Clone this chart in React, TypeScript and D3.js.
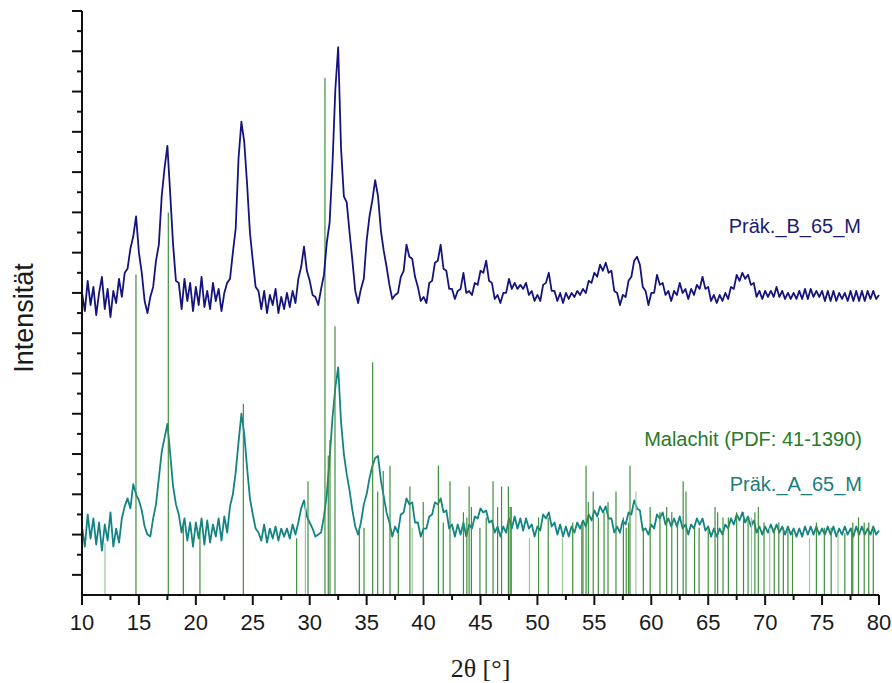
import React from "react";
import * as d3 from "d3";

// 2θ grid of the measured patterns
const TWO_THETA_START = 10;
const TWO_THETA_STEP = 0.25;

// Präk._B_65_M intensities (arb. units), one value per 0.25° from 10° to 80°
const B_INT = [
  150, 141, 156, 144, 153, 139, 150, 158, 142, 152, 138, 151, 145, 157, 148, 160,
  162, 172, 178, 188, 170, 160, 146, 140, 148, 153, 166, 174, 198, 212, 223, 199,
  174, 156, 155, 142, 157, 146, 155, 141, 153, 144, 158, 143, 151, 142, 155, 146,
  152, 141, 150, 155, 157, 170, 182, 217, 235, 225, 204, 180, 166, 153, 151, 142,
  151, 140, 149, 144, 152, 140, 148, 142, 150, 143, 151, 145, 157, 163, 173, 161,
  156, 149, 148, 144, 152, 159, 175, 185, 214, 251, 272, 222, 198, 195, 180, 166,
  151, 145, 152, 157, 176, 188, 196, 206, 198, 181, 171, 163, 154, 147, 149, 150,
  158, 161, 174, 168, 167, 158, 153, 146, 148, 145, 155, 156, 165, 166, 174, 162,
  161, 152, 152, 147, 151, 152, 160, 150, 151, 149, 155, 154, 161, 160, 166, 156,
  155, 147, 149, 145, 150, 150, 157, 152, 155, 152, 154, 152, 155, 149, 151, 146,
  149, 146, 154, 155, 160, 151, 151, 146, 150, 145, 150, 147, 150, 148, 151, 149,
  152, 150, 156, 155, 160, 158, 164, 161, 165, 160, 161, 151, 150, 144, 149, 148,
  156, 158, 166, 168, 164, 153, 151, 144, 150, 150, 159, 154, 155, 149, 151, 146,
  151, 149, 155, 150, 152, 147, 152, 149, 154, 152, 158, 152, 153, 146, 149, 145,
  149, 146, 150, 147, 153, 152, 159, 156, 160, 157, 159, 154, 155, 148, 151, 147,
  151, 148, 151, 148, 153, 148, 151, 147, 150, 147, 150, 147, 151, 147, 152, 147,
  152, 148, 151, 148, 151, 146, 151, 146, 151, 146, 150, 147, 150, 146, 151, 146,
  151, 146, 151, 146, 151, 147, 151, 147, 149,
];

// Präk._A_65_M intensities (arb. units), one value per 0.25° from 10° to 80°
const A_INT = [
  34, 24, 40, 28, 38, 25, 36, 22, 35, 27, 41, 24, 33, 26, 38, 44,
  48, 43, 55, 50, 47, 42, 34, 30, 29, 38, 45, 58, 71, 78, 85, 70,
  54, 45, 40, 31, 38, 27, 36, 24, 36, 28, 38, 25, 37, 26, 35, 29,
  38, 27, 39, 31, 44, 50, 61, 76, 90, 80, 63, 48, 40, 33, 31, 27,
  35, 26, 33, 28, 34, 27, 33, 29, 33, 28, 35, 30, 36, 43, 47, 39,
  36, 33, 29, 30, 31, 39, 50, 68, 88, 103, 113, 86, 70, 60, 52, 42,
  34, 30, 36, 45, 50, 58, 64, 68, 69, 57, 49, 41, 36, 29, 34, 31,
  40, 41, 48, 45, 46, 36, 36, 29, 33, 33, 39, 40, 46, 45, 48, 41,
  42, 33, 35, 29, 35, 30, 36, 29, 35, 33, 39, 38, 43, 41, 42, 36,
  37, 31, 34, 29, 34, 31, 38, 33, 39, 33, 38, 32, 38, 33, 35, 29,
  34, 32, 40, 38, 41, 34, 36, 30, 35, 29, 34, 29, 34, 31, 36, 33,
  37, 34, 40, 37, 42, 39, 44, 41, 44, 38, 38, 31, 34, 31, 37, 35,
  41, 40, 47, 43, 42, 32, 33, 30, 35, 33, 40, 38, 41, 35, 38, 34,
  38, 34, 39, 33, 35, 30, 35, 33, 38, 35, 38, 32, 34, 29, 33, 29,
  33, 30, 35, 33, 38, 35, 40, 37, 41, 36, 39, 34, 37, 31, 34, 30,
  34, 31, 35, 31, 35, 31, 34, 30, 34, 30, 33, 29, 33, 29, 34, 30,
  34, 30, 34, 30, 33, 30, 34, 30, 34, 29, 33, 30, 34, 30, 33, 29,
  34, 30, 34, 30, 33, 30, 34, 30, 32,
];

// Malachit (PDF: 41-1390) reference lines: 2θ positions and relative intensities (%)
const STICK_POS = [
  12.02, 14.74, 17.58, 18.9, 20.36, 24.17, 28.85, 29.62, 29.85, 31.34, 31.63, 31.78,
  32.22, 34.36, 34.77, 35.53, 35.97, 36.46, 37.05, 37.78, 38.8, 39.0, 39.97, 41.3,
  41.73, 42.32, 43.5, 43.8, 44.0, 44.2, 44.95, 45.5, 46.1, 46.5, 46.85, 47.45,
  47.6, 47.7, 49.3, 50.1, 50.95, 52.2, 53.1, 53.9, 54.0, 54.27, 54.47, 54.9,
  55.35, 55.85, 56.2, 56.9, 57.55, 57.8, 58.0, 58.13, 58.65, 59.3, 59.9, 60.76,
  61.35, 61.8, 62.3, 62.8, 63.05, 63.8, 64.2, 65.0, 65.6, 65.83, 66.3, 66.77,
  67.5, 68.1, 68.5, 68.8, 69.1, 69.4, 69.9, 70.4, 70.8, 71.2, 71.6, 72.0,
  72.4, 73.9, 74.5, 75.2, 75.8, 76.4, 77.0, 77.6, 77.7, 78.2, 78.7, 79.1, 79.5,
];
const STICK_INT = [
  10, 62, 74, 14, 13, 37, 11, 18, 22, 100, 27, 30,
  52, 13, 13, 45, 20, 24, 25, 12, 21, 13, 18, 25,
  14, 22, 16, 15, 21, 17, 13, 15, 22, 17, 21, 21,
  17, 17, 11, 15, 15, 11, 14, 14, 14, 25, 18, 20,
  15, 16, 18, 20, 15, 13, 14, 25, 20, 13, 17, 16,
  17, 16, 14, 22, 20, 13, 13, 13, 17, 16, 15, 15,
  16, 16, 15, 15, 16, 17, 14, 13, 13, 14, 13, 13,
  12, 11, 14, 13, 13, 12, 12, 13, 14, 15, 14, 14, 13,
];
const FAINT_STICKS = [12.02, 29.62, 39.0, 49.3, 52.2, 58.65, 68.8, 70.4, 73.9, 76.4];

const X_MAJOR_TICKS = [10, 15, 20, 25, 30, 35, 40, 45, 50, 55, 60, 65, 70, 75, 80];
const X_MINOR_TICKS = [12.5, 17.5, 22.5, 27.5, 32.5, 37.5, 42.5, 47.5, 52.5, 57.5, 62.5, 67.5, 72.5, 77.5];
const Y_TICKS = d3.range(10, 291, 10);

const LABEL_B = "Präk._B_65_M";
const LABEL_REF = "Malachit (PDF: 41-1390)";
const LABEL_A = "Präk._A_65_M";
const X_TITLE = "2θ [°]";
const Y_TITLE = "Intensität";

const W = 892;
const H = 683;
const SANS = "'Liberation Sans', Arial, sans-serif";
const SERIF = "'Liberation Serif', 'Times New Roman', serif";

export default function App() {
  const x = d3.scaleLinear().domain([10, 80]).range([82, 879]);
  const y = d3.scaleLinear().domain([0, 290]).range([595, 11]);
  const ys = d3.scaleLinear().domain([0, 100]).range([595, 78]);

  const line = d3
    .line<number>()
    .x((_, i) => x(TWO_THETA_START + i * TWO_THETA_STEP))
    .y((v) => y(v));

  const baseY = y(0);
  const axisX = x(10);

  return (
    <svg
      width={W}
      height={H}
      viewBox={`0 0 ${W} ${H}`}
      style={{ position: "absolute", left: 0, top: 0, background: "#fff" }}
    >
      <rect x={0} y={0} width={W} height={H} fill="#fff" />

      {/* sample A */}
      <path d={line(A_INT) ?? ""} fill="none" stroke="#138383" strokeWidth={1.8} strokeLinejoin="round" />

      {/* reference sticks */}
      <g>
        {STICK_POS.map((p, i) => (
          <line
            key={i}
            x1={x(p)}
            x2={x(p)}
            y1={baseY}
            y2={ys(STICK_INT[i])}
            stroke={FAINT_STICKS.includes(p) ? "#9cc79c" : "#3f8f3f"}
            strokeWidth={1.2}
          />
        ))}
      </g>

      {/* sample B */}
      <path d={line(B_INT) ?? ""} fill="none" stroke="#14147c" strokeWidth={1.8} strokeLinejoin="round" />

      {/* axes */}
      <g stroke="#111" strokeWidth={2} fill="none">
        <line x1={axisX} x2={x(80)} y1={baseY} y2={baseY} />
        <line x1={axisX} x2={axisX} y1={baseY} y2={y(290)} />
        {X_MAJOR_TICKS.map((t) => (
          <line key={"xM" + t} x1={x(t)} x2={x(t)} y1={baseY} y2={baseY + 10} />
        ))}
        {X_MINOR_TICKS.map((t) => (
          <line key={"xm" + t} x1={x(t)} x2={x(t)} y1={baseY} y2={baseY + 5} />
        ))}
        {Y_TICKS.map((t) => (
          <line
            key={"y" + t}
            x1={axisX}
            x2={axisX - ((t / 10) % 2 === 1 ? 10 : 5)}
            y1={y(t)}
            y2={y(t)}
          />
        ))}
      </g>

      {/* x tick labels */}
      <g fontFamily={SANS} fontSize={22} fill="#1a1a1a" textAnchor="middle">
        {X_MAJOR_TICKS.map((t) => (
          <text key={"xl" + t} x={x(t)} y={630}>
            {t}
          </text>
        ))}
      </g>

      {/* axis titles */}
      <text x={(x(10) + x(80)) / 2} y={677} fontFamily={SERIF} fontSize={26} fill="#1a1a1a" textAnchor="middle">
        {X_TITLE}
      </text>
      <text
        transform={`translate(33, ${(y(0) + y(290)) / 2 + 15}) rotate(-90)`}
        fontFamily={SANS}
        fontSize={27}
        fill="#1a1a1a"
        textAnchor="middle"
      >
        {Y_TITLE}
      </text>

      {/* labels */}
      <g fontFamily={SANS} fontSize={20} textAnchor="end">
        <text x={861} y={233} fill="#1c1c72">{LABEL_B}</text>
        <text x={862} y={446} fill="#2a7a2a">{LABEL_REF}</text>
        <text x={862} y={491} fill="#1c7c7c">{LABEL_A}</text>
      </g>
    </svg>
  );
}
